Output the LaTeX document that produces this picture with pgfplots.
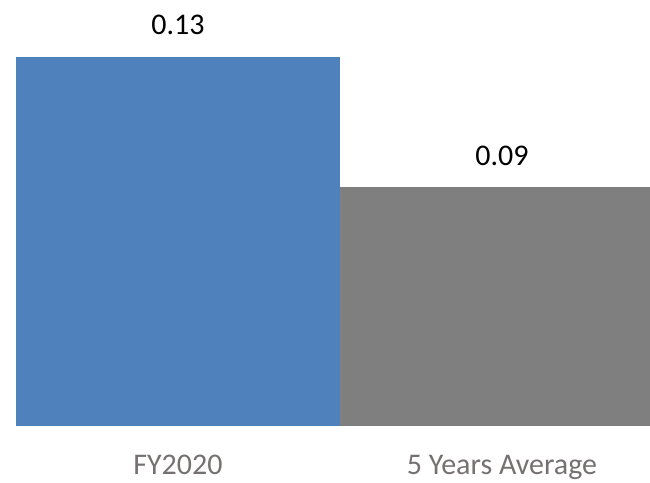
\documentclass[border=0pt]{standalone}
\usepackage{fontspec}
\setmainfont{Carlito}
\usepackage{pgfplots}
\pgfplotsset{compat=1.18}
\definecolor{barblue}{HTML}{4F81BD}
\definecolor{bargray}{HTML}{7F7F7F}
\definecolor{labelgray}{HTML}{767171}
\begin{document}
\begin{tikzpicture}
\useasboundingbox (0pt,-56pt) rectangle (650pt,426pt);
\begin{axis}[
  at={(0pt,0pt)}, anchor=south west,
  scale only axis, width=650pt, height=426pt,
  xmin=-0.549, xmax=1.457, ymin=0, ymax=0.15,
  axis line style={draw=none},
  major tick length=0pt,
  ytick=\empty,
  xtick={0,1},
  xticklabels={FY2020, 5 Years Average},
  xticklabel style={anchor=base, yshift=-48pt, font=\fontsize{30}{36}\selectfont, text=labelgray},
  ybar, bar width=1,
  nodes near coords, point meta=explicit symbolic,
  every node near coord/.append style={anchor=base, yshift=22pt, font=\fontsize{30}{36}\selectfont, text=black},
]
\addplot[fill=barblue, draw=none, bar shift=0pt] coordinates {(0,0.13) [0.13]};
\addplot[fill=bargray, draw=none, bar shift=0pt] coordinates {(1,0.084) [0.09]};
\end{axis}
\end{tikzpicture}
\end{document}
